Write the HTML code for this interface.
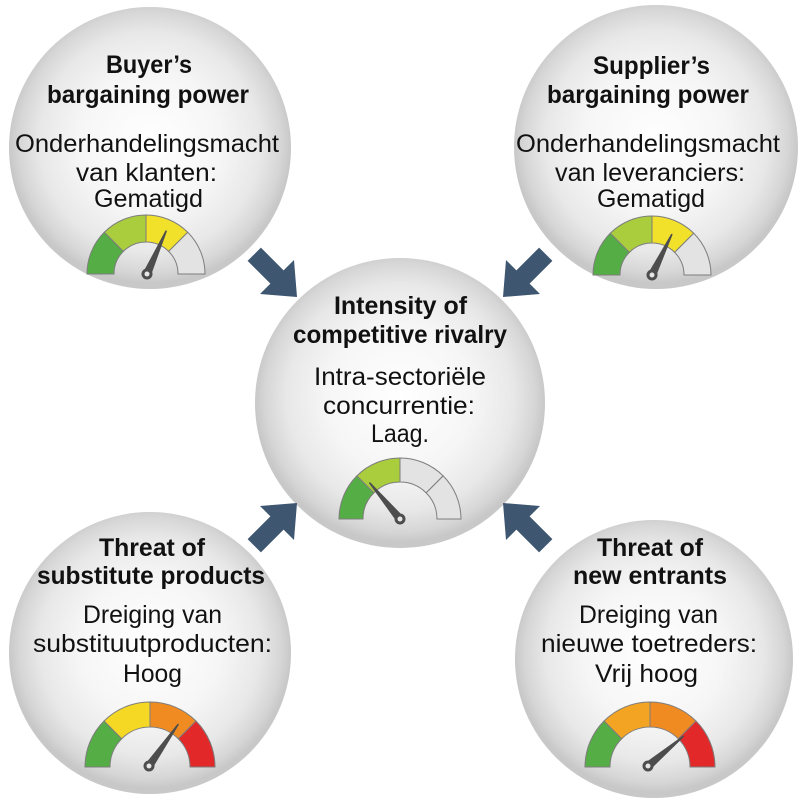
<!DOCTYPE html>
<html>
<head>
<meta charset="utf-8">
<style>
  html,body{margin:0;padding:0;background:#fff;}
  svg{display:block;}
  text{font-family:"Liberation Sans",Arial,sans-serif;fill:#111;text-anchor:middle;}
  .b{font-weight:bold;font-size:25px;}
  .r{font-size:25px;}
</style>
</head>
<body>
<svg width="800" height="800" viewBox="0 0 800 800" xmlns="http://www.w3.org/2000/svg">
  <defs>
    <radialGradient id="sph" cx="50%" cy="48%" r="50%">
      <stop offset="0%" stop-color="#ffffff"/>
      <stop offset="50%" stop-color="#f6f6f6"/>
      <stop offset="78%" stop-color="#e8e8e8"/>
      <stop offset="93%" stop-color="#d6d6d6"/>
      <stop offset="100%" stop-color="#c8c8c8"/>
    </radialGradient>
    <path id="segT" d="M -59 0 A 59 59 0 0 1 -41.72 -41.72 L -22.63 -22.63 A 32 32 0 0 0 -32 0 Z"/>
    <path id="segC" d="M -61 0 A 61 61 0 0 1 -43.13 -43.13 L -26.16 -26.16 A 37 37 0 0 0 -37 0 Z"/>
    <path id="segB" d="M -65 0 A 65 65 0 0 1 -45.96 -45.96 L -28.28 -28.28 A 40 40 0 0 0 -40 0 Z"/>
    <g id="needle">
      <polygon points="0,-4.2 46,-0.8 47,0 46,0.8 0,4.2" fill="#4d4d4d"/>
    </g>
  </defs>

  <!-- circles -->
  <circle cx="150" cy="148" r="141" fill="url(#sph)"/>
  <circle cx="656" cy="147" r="142" fill="url(#sph)"/>
  <circle cx="400" cy="403" r="145" fill="url(#sph)"/>
  <circle cx="150" cy="653" r="141" fill="url(#sph)"/>
  <circle cx="654" cy="659" r="139" fill="url(#sph)"/>

  <!-- arrows -->
  <g fill="#3f5670">
    <polygon points="247.6,260.9 270.4,283.6 260,294 297,297 294,260 283.6,270.4 260.9,247.6"/>
    <polygon points="552.4,260.9 529.6,283.6 540,294 503,297 506,260 516.4,270.4 539.1,247.6"/>
    <polygon points="247.6,539.1 270.4,516.4 260,506 297,503 294,540 283.6,529.6 260.9,552.4"/>
    <polygon points="552.4,539.1 529.6,516.4 540,506 503,503 506,540 516.4,529.6 539.1,552.4"/>
  </g>

  <!-- Top-left gauge -->
  <g transform="translate(146,274)" stroke="#7d7d7d" stroke-width="1">
    <use href="#segT" fill="#55ad45"/>
    <use href="#segT" fill="#a9cd3c" transform="rotate(45)"/>
    <use href="#segT" fill="#f2e12a" transform="rotate(90)"/>
    <use href="#segT" fill="#e3e3e3" transform="rotate(135)"/>
  </g>
  <g transform="translate(147,274) rotate(-66) scale(1.02,1)"><use href="#needle"/></g>
  <circle cx="147" cy="274" r="5.5" fill="#4d4d4d"/>
  <circle cx="147" cy="274" r="2.5" fill="#e6e6e6"/>

  <!-- Top-right gauge -->
  <g transform="translate(652,275)" stroke="#7d7d7d" stroke-width="1">
    <use href="#segT" fill="#55ad45"/>
    <use href="#segT" fill="#a9cd3c" transform="rotate(45)"/>
    <use href="#segT" fill="#f2e12a" transform="rotate(90)"/>
    <use href="#segT" fill="#e3e3e3" transform="rotate(135)"/>
  </g>
  <g transform="translate(652,275) rotate(-64) scale(0.98,1)"><use href="#needle"/></g>
  <circle cx="652" cy="275" r="5.5" fill="#4d4d4d"/>
  <circle cx="652" cy="275" r="2.5" fill="#e6e6e6"/>

  <!-- Center gauge -->
  <g transform="translate(400,519)" stroke="#7d7d7d" stroke-width="1">
    <use href="#segC" fill="#55ad45"/>
    <use href="#segC" fill="#a9cd3c" transform="rotate(45)"/>
    <use href="#segC" fill="#e3e3e3" transform="rotate(90)"/>
    <use href="#segC" fill="#e3e3e3" transform="rotate(135)"/>
  </g>
  <g transform="translate(400,519) rotate(-130) scale(1.02,1)"><use href="#needle"/></g>
  <circle cx="400" cy="519" r="5.5" fill="#4d4d4d"/>
  <circle cx="400" cy="519" r="2.5" fill="#e6e6e6"/>

  <!-- Bottom-left gauge -->
  <g transform="translate(150,767)" stroke="#7d7d7d" stroke-width="1">
    <use href="#segB" fill="#55ad45"/>
    <use href="#segB" fill="#f5d824" transform="rotate(45)"/>
    <use href="#segB" fill="#f08b22" transform="rotate(90)"/>
    <use href="#segB" fill="#e3282a" transform="rotate(135)"/>
  </g>
  <g transform="translate(149,766) rotate(-55) scale(1.1,1)"><use href="#needle"/></g>
  <circle cx="149" cy="766" r="5.5" fill="#4d4d4d"/>
  <circle cx="149" cy="766" r="2.5" fill="#e6e6e6"/>

  <!-- Bottom-right gauge -->
  <g transform="translate(650,767)" stroke="#7d7d7d" stroke-width="1">
    <use href="#segB" fill="#55ad45"/>
    <use href="#segB" fill="#f4a423" transform="rotate(45)"/>
    <use href="#segB" fill="#f08b22" transform="rotate(90)"/>
    <use href="#segB" fill="#e3282a" transform="rotate(135)"/>
  </g>
  <g transform="translate(648,766) rotate(-40) scale(1.0,1)"><use href="#needle"/></g>
  <circle cx="648" cy="766" r="5.5" fill="#4d4d4d"/>
  <circle cx="648" cy="766" r="2.5" fill="#e6e6e6"/>

  <!-- Top-left text -->
  <text class="b" x="149" y="73" textLength="86" lengthAdjust="spacingAndGlyphs">Buyer’s</text>
  <text class="b" x="148" y="103" textLength="202" lengthAdjust="spacingAndGlyphs">bargaining power</text>
  <text class="r" x="147" y="152" textLength="264" lengthAdjust="spacingAndGlyphs">Onderhandelingsmacht</text>
  <text class="r" x="146.5" y="181" textLength="141" lengthAdjust="spacingAndGlyphs">van klanten:</text>
  <text class="r" x="148.5" y="207" textLength="109" lengthAdjust="spacingAndGlyphs">Gematigd</text>

  <!-- Top-right text -->
  <text class="b" x="651.5" y="74" textLength="117" lengthAdjust="spacingAndGlyphs">Supplier’s</text>
  <text class="b" x="648" y="103" textLength="202" lengthAdjust="spacingAndGlyphs">bargaining power</text>
  <text class="r" x="648" y="152" textLength="264" lengthAdjust="spacingAndGlyphs">Onderhandelingsmacht</text>
  <text class="r" x="650" y="181" textLength="190" lengthAdjust="spacingAndGlyphs">van leveranciers:</text>
  <text class="r" x="651" y="207" textLength="108" lengthAdjust="spacingAndGlyphs">Gematigd</text>

  <!-- Center text -->
  <text class="b" x="400.5" y="314" textLength="133" lengthAdjust="spacingAndGlyphs">Intensity of</text>
  <text class="b" x="400" y="343" textLength="214" lengthAdjust="spacingAndGlyphs">competitive rivalry</text>
  <text class="r" x="400" y="385" textLength="172" lengthAdjust="spacingAndGlyphs">Intra-sectoriële</text>
  <text class="r" x="399" y="414" textLength="152" lengthAdjust="spacingAndGlyphs">concurrentie:</text>
  <text class="r" x="400" y="442" textLength="58" lengthAdjust="spacingAndGlyphs">Laag.</text>

  <!-- Bottom-left text -->
  <text class="b" x="152" y="556" textLength="106" lengthAdjust="spacingAndGlyphs">Threat of</text>
  <text class="b" x="151" y="584" textLength="228" lengthAdjust="spacingAndGlyphs">substitute products</text>
  <text class="r" x="152.5" y="623" textLength="139" lengthAdjust="spacingAndGlyphs">Dreiging van</text>
  <text class="r" x="152.5" y="652" textLength="239" lengthAdjust="spacingAndGlyphs">substituutproducten:</text>
  <text class="r" x="152.5" y="682" textLength="59" lengthAdjust="spacingAndGlyphs">Hoog</text>

  <!-- Bottom-right text -->
  <text class="b" x="650" y="556" textLength="106" lengthAdjust="spacingAndGlyphs">Threat of</text>
  <text class="b" x="650" y="584" textLength="154" lengthAdjust="spacingAndGlyphs">new entrants</text>
  <text class="r" x="648.5" y="623" textLength="139" lengthAdjust="spacingAndGlyphs">Dreiging van</text>
  <text class="r" x="649" y="652" textLength="216" lengthAdjust="spacingAndGlyphs">nieuwe toetreders:</text>
  <text class="r" x="646.5" y="682" textLength="103" lengthAdjust="spacingAndGlyphs">Vrij hoog</text>
</svg>
</body>
</html>
